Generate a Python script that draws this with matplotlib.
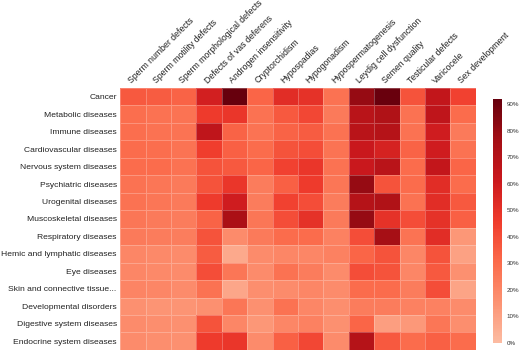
import matplotlib
matplotlib.use('Agg')
import matplotlib.pyplot as plt
import numpy as np
from matplotlib.colors import LinearSegmentedColormap

diseases = ['Cancer', 'Metabolic diseases', 'Immune diseases', 'Cardiovascular diseases',
            'Nervous system diseases', 'Psychiatric diseases', 'Urogenital diseases',
            'Muscoskeletal diseases', 'Respiratory diseases', 'Hemic and lymphatic diseases',
            'Eye diseases', 'Skin and connective tissue...', 'Developmental disorders',
            'Digestive system diseases', 'Endocrine system diseases']
phenotypes = ['Sperm number defects', 'Sperm motility defects', 'Sperm morphological defects',
              'Defects of vas deferens', 'Androgen insensitivity', 'Cryptorchidism',
              'Hypospadias', 'Hypogonadism', 'Hypospermatogenesis', 'Leydig cell dysfunction',
              'Semen quality', 'Testicular defects', 'Varicocele', 'Sex development']

# percent of genes shared
values = np.array([
    [36, 35, 33, 58, 92, 32, 52, 50, 28, 80, 91, 38, 65, 44],
    [29, 28, 27, 46, 48, 28, 36, 42, 25, 68, 72, 28, 66, 30],
    [29, 28, 27, 66, 33, 27, 33, 35, 28, 68, 70, 28, 60, 25],
    [30, 29, 27, 45, 34, 30, 38, 40, 27, 62, 57, 33, 60, 28],
    [30, 30, 28, 38, 36, 32, 44, 48, 28, 62, 68, 30, 64, 32],
    [28, 26, 25, 38, 48, 24, 34, 46, 26, 80, 38, 30, 52, 30],
    [28, 26, 25, 46, 60, 24, 44, 40, 24, 70, 72, 28, 52, 36],
    [26, 25, 24, 33, 74, 26, 40, 50, 25, 80, 50, 40, 50, 34],
    [25, 24, 23, 38, 18, 25, 30, 30, 22, 40, 76, 27, 52, 14],
    [20, 19, 18, 35, 7, 18, 20, 20, 22, 32, 38, 20, 38, 10],
    [20, 19, 18, 40, 26, 18, 28, 24, 18, 40, 38, 20, 36, 16],
    [21, 20, 18, 28, 8, 17, 18, 20, 18, 30, 30, 24, 40, 9],
    [16, 15, 15, 16, 26, 16, 28, 20, 17, 24, 24, 22, 22, 18],
    [18, 17, 16, 38, 20, 14, 20, 22, 16, 32, 11, 13, 26, 17],
    [18, 17, 16, 46, 48, 18, 34, 42, 18, 70, 36, 30, 34, 30],
])

plt.rcParams['font.family'] = ['Liberation Sans', 'DejaVu Sans']

reds = plt.get_cmap('Reds')
cmap = LinearSegmentedColormap.from_list('reds_cut', reds(np.linspace(0.25, 1.0, 256)))

fig = plt.figure(figsize=(5.2, 3.52), dpi=100)
ax = fig.add_axes([0.231, 0.006, 0.684, 0.744])
mesh = ax.pcolormesh(values, cmap=cmap, vmin=0, vmax=92,
                     edgecolors=(1, 1, 1, 0.25), linewidth=0.4)
ax.set_xlim(0, len(phenotypes))
ax.set_ylim(len(diseases), 0)

ax.xaxis.tick_top()
ax.set_xticks(np.arange(len(phenotypes)) + 0.5)
ax.set_xticklabels(phenotypes, rotation=45, ha='left', va='bottom',
                   rotation_mode='anchor', fontsize=6.3, color='#222222')
ax.set_yticks(np.arange(len(diseases)) + 0.5)
ax.set_yticklabels(diseases, fontsize=6.1, color='#222222')
ax.tick_params(axis='y', length=0, pad=2.5)
ax.tick_params(axis='x', length=0, pad=2)
for s in ax.spines.values():
    s.set_visible(False)

cax = fig.add_axes([0.948, 0.026, 0.018, 0.693])
cb = fig.colorbar(mesh, cax=cax, ticks=np.arange(0, 91, 10))
cb.ax.set_yticklabels(['%d%%' % t for t in range(0, 91, 10)], fontsize=4.5, color='#333333')
cb.ax.tick_params(length=0, pad=3)
cb.outline.set_visible(False)

fig.savefig('out.png', dpi=100)
